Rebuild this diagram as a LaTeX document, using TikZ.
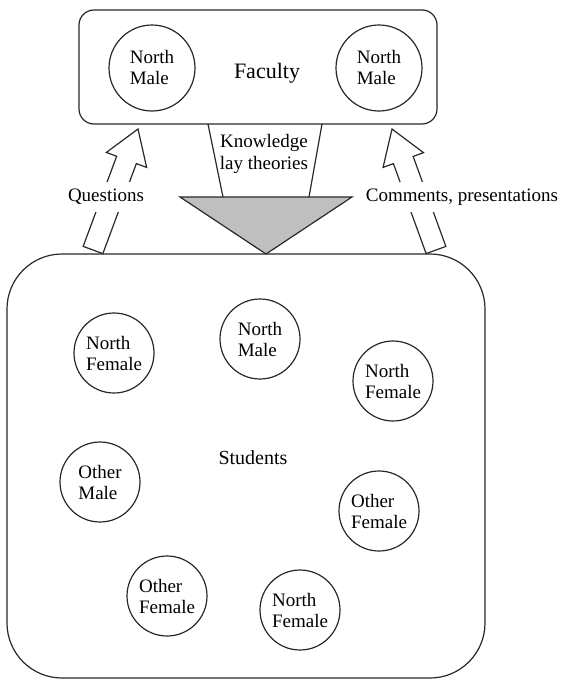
\documentclass[tikz,border=0pt]{standalone}
\usepackage{fontspec}
\setmainfont{Liberation Serif}
\usetikzlibrary{calc}
\definecolor{inkgray}{RGB}{40,40,40}
\definecolor{wedgegray}{RGB}{191,191,191}

\tikzset{
  group/.style={draw=inkgray, line width=0.6pt, inner sep=0pt, outer sep=0pt},
  member/.style={draw=inkgray, line width=0.6pt, circle, minimum size=40pt,
    inner sep=0pt, align=left, font=\fontsize{9.5}{10.5}\selectfont},
  bigmember/.style={member, minimum size=43pt},
  flowlabel/.style={fill=white, inner xsep=1pt, inner ysep=3.5pt, font=\fontsize{9.5}{11}\selectfont},
}

% hollow block arrow from #1 (base) to #2 (tip)
\newcommand{\hollowarrow}[2]{%
  \coordinate (#1h) at ($(#2)!16.5pt!(#1)$);
  \draw[draw=inkgray, line width=0.6pt, fill=white]
    ($(#1)!5.25pt!90:(#2)$) -- ($(#1h)!5.25pt!90:(#2)$) -- ($(#1h)!10.75pt!90:(#2)$)
    -- (#2) -- ($(#1h)!10.75pt!-90:(#2)$) -- ($(#1h)!5.25pt!-90:(#2)$)
    -- ($(#1)!5.25pt!-90:(#2)$) -- cycle;
}

\begin{document}
\begin{tikzpicture}[x=0.5pt, y=-0.5pt]
    \useasboundingbox (0,0) rectangle (562,680);

    % Faculty
    \node[group, rounded corners=7.5pt, minimum width=179pt, minimum height=57pt] (faculty) at (258,67) {};
    \node[font=\fontsize{11}{13}\selectfont] (facultylabel) at (267,73) {Faculty};
    \node[bigmember] (fnm1) at (152,68) {North\\Male};
    \node[bigmember] (fnm2) at (379,68) {North\\Male};

    % Students
    \node[group, rounded corners=27.5pt, minimum width=239pt, minimum height=212pt] (students) at (246,466) {};
    \node[font=\fontsize{10}{12}\selectfont] (studentslabel) at (253,458) {Students};
    \node[member] (snf1) at (114,353) {North\\Female};
    \node[member] (snm) at (260,339) {North\\Male};
    \node[member] (snf2) at (393,381) {North\\Female};
    \node[member] (som) at (100,482) {Other\\Male};
    \node[member] (sof1) at (379,511) {Other\\Female};
    \node[member] (sof2) at (167,596) {Other\\Female};
    \node[member] (snf3) at (300,610) {North\\Female};

    % Knowledge wedge
    \coordinate (wl) at (180,197);
    \coordinate (wr) at (352,197);
    \coordinate (apex) at (266,254);
    \draw[draw=inkgray, line width=0.6pt, fill=wedgegray] (wl) -- (wr) -- (apex) -- cycle;
    \draw[draw=inkgray, line width=0.6pt] (faculty.south west) ++(129,0) -- (223,197);
    \draw[draw=inkgray, line width=0.6pt] (faculty.south west) ++(243,0) -- (309,197);
    \node[align=center, font=\fontsize{9.5}{11}\selectfont] (knowledge) at (264,154) {Knowledge\\lay theories};

    % Questions / comments
    \coordinate (qbase) at (93,250);
    \coordinate (qtip) at (138,129);
    \coordinate (cbase) at (436,250);
    \coordinate (ctip) at (392,129);
    \hollowarrow{qbase}{qtip}
    \hollowarrow{cbase}{ctip}
    \node[flowlabel] (questions) at (106,197) {Questions};
    \node[flowlabel] (comments) at (462,197) {Comments, presentations};
\end{tikzpicture}
\end{document}
